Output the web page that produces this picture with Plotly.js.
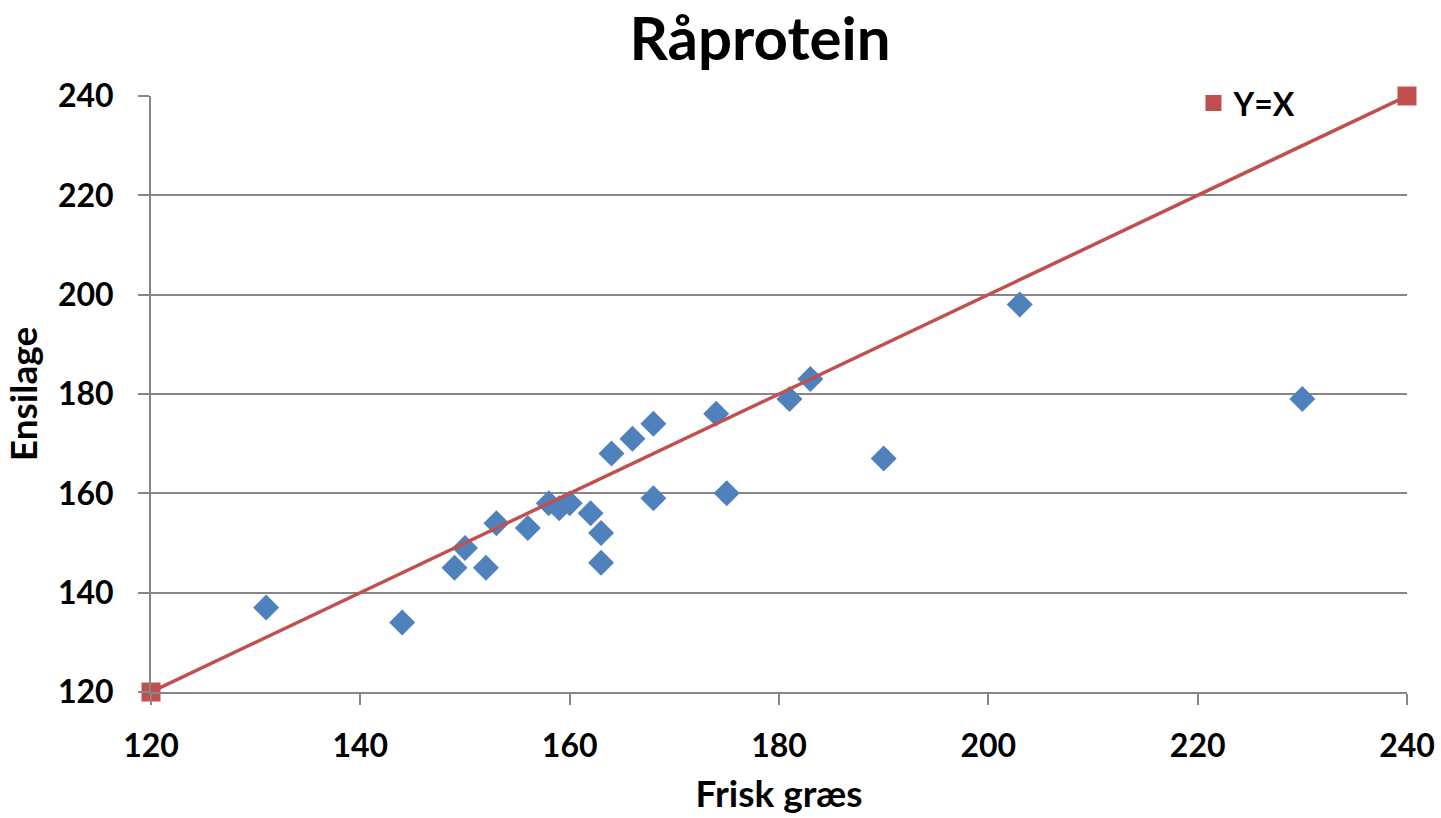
<!DOCTYPE html>
<html>
<head>
<meta charset="utf-8">
<script src="https://cdn.plot.ly/plotly-3.0.1.min.js"></script>
<style>html,body{margin:0;padding:0;background:#fff;}#chart{width:1441px;height:818px;}</style>
</head>
<body>
<div id="chart"></div>
<script>
// Data
const friskGraes = [131, 144, 149, 150, 152, 153, 156, 158, 159, 160, 162, 163, 163, 164, 166, 168, 168, 174, 175, 181, 183, 190, 203, 230];
const ensilage   = [137, 134, 145, 149, 145, 154, 153, 158, 157, 158, 156, 152, 146, 168, 171, 174, 159, 176, 160, 179, 183, 167, 198, 179];
const lineX = [120, 240];
const lineY = [120, 240];
const tickVals = [120, 140, 160, 180, 200, 220, 240];
const tickText = ['120', '140', '160', '180', '200', '220', '240'];
const chartTitle = 'Råprotein';
const xTitle = 'Frisk græs';
const yTitle = 'Ensilage';
const refName = 'Y=X';

const FONT = 'Lato, "Open Sans", sans-serif';
const blue = '#4F81BD';
const red = '#C0504D';
const gray = '#868686';

const traces = [
  {
    x: friskGraes, y: ensilage, type: 'scatter', mode: 'markers',
    name: 'Data', showlegend: false, cliponaxis: false,
    marker: {symbol: 'diamond', size: 20, color: blue, line: {width: 0}}
  },
  {
    x: lineX, y: lineY, type: 'scatter', mode: 'lines',
    name: refName, showlegend: false, cliponaxis: false,
    line: {color: red, width: 3.5}
  },
  {
    x: lineX, y: lineY, type: 'scatter', mode: 'markers',
    name: refName, showlegend: true, cliponaxis: false,
    marker: {symbol: 'square', size: 19, color: red, line: {width: 0}}
  }
];

const layout = {
  width: 1441, height: 818,
  paper_bgcolor: '#fff', plot_bgcolor: '#fff',
  margin: {l: 151, r: 34, t: 96, b: 126},
  font: {family: FONT, color: '#000'},
  title: {
    text: '<b>' + chartTitle + '</b>',
    font: {family: FONT, size: 60, color: '#000'},
    x: 760 / 1441, xanchor: 'center', xref: 'container',
    y: 1 - 39 / 818, yanchor: 'middle', yref: 'container'
  },
  xaxis: {
    range: [120, 240], tickvals: tickVals, ticktext: tickText,
    showgrid: false, zeroline: false,
    showline: true, linecolor: gray, linewidth: 2,
    ticks: 'outside', ticklen: 11, tickwidth: 2, tickcolor: gray,
    tickfont: {family: FONT, size: 32, color: '#000', weight: 'bold'},
    ticklabelstandoff: 14,
    title: {text: '<b>' + xTitle + '</b>', font: {family: FONT, size: 37, color: '#000'}, standoff: 18}
  },
  yaxis: {
    range: [120, 240], tickvals: tickVals, ticktext: tickText,
    showgrid: true, gridcolor: gray, gridwidth: 2, zeroline: false,
    showline: true, linecolor: gray, linewidth: 2,
    ticks: 'outside', ticklen: 11, tickwidth: 2, tickcolor: gray,
    tickfont: {family: FONT, size: 32, color: '#000', weight: 'bold'},
    ticklabelstandoff: 18,
    title: {text: '<b>' + yTitle + '</b>', font: {family: FONT, size: 37, color: '#000'}, standoff: 14}
  },
  showlegend: true,
  legend: {
    x: 0.83, y: 1.034, xanchor: 'left', yanchor: 'top',
    bgcolor: 'rgba(0,0,0,0)',
    font: {family: FONT, size: 32, color: '#000', weight: 'bold'},
    itemwidth: 30
  }
};

Plotly.newPlot('chart', traces, layout, {displayModeBar: false, staticPlot: true});
</script>
</body>
</html>
